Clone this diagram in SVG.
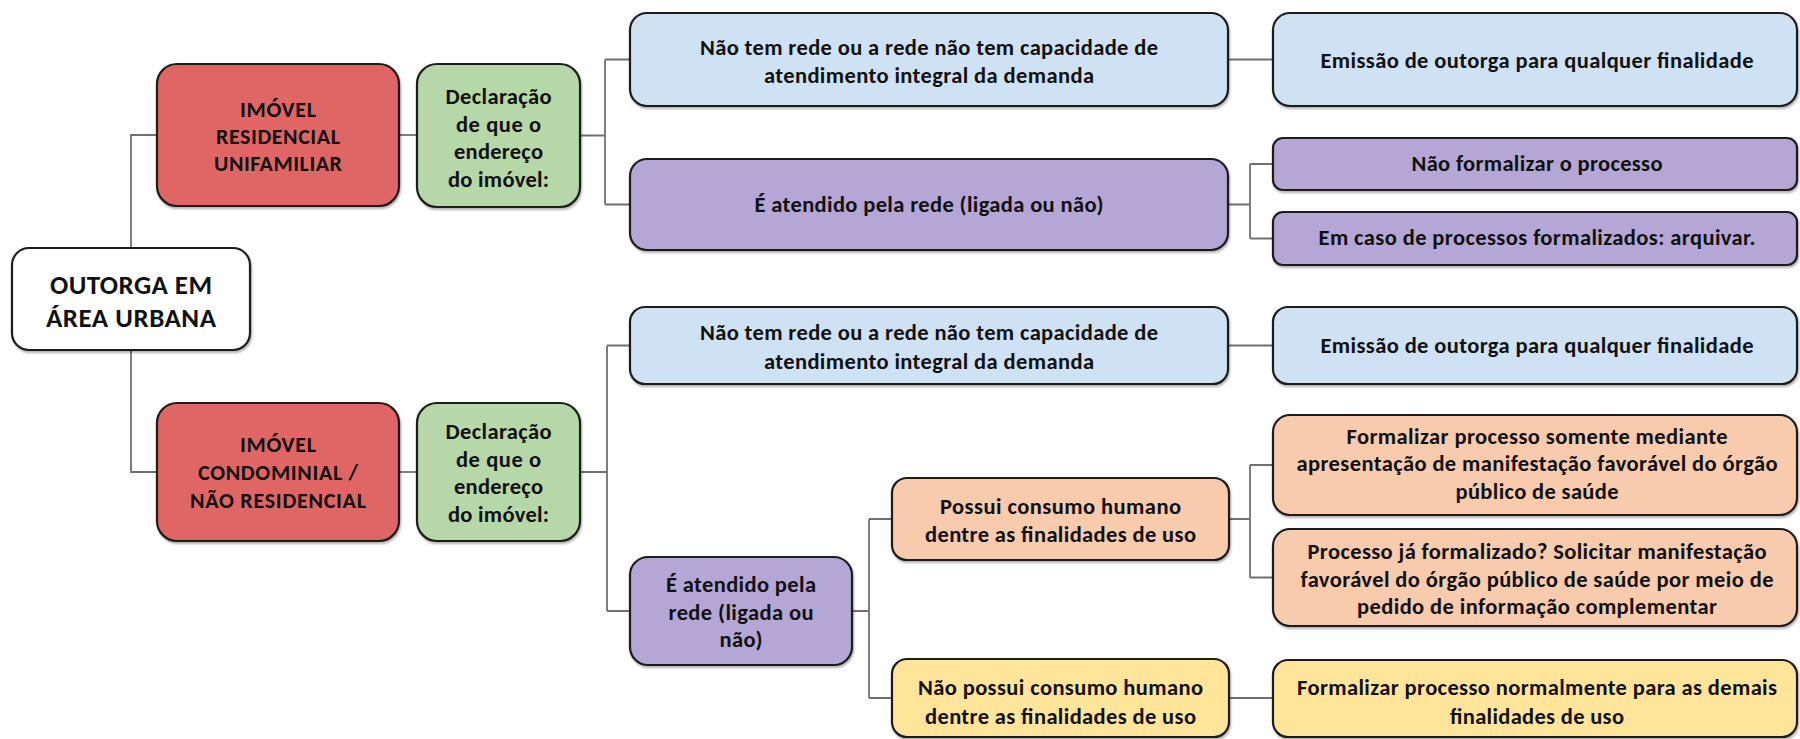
<svg xmlns="http://www.w3.org/2000/svg" width="1800" height="739" viewBox="0 0 1800 739">
<defs>
<filter id="sh" x="-5%" y="-10%" width="110%" height="130%">
<feDropShadow dx="1" dy="2" stdDeviation="1.2" flood-color="#000" flood-opacity="0.3"/>
</filter>
</defs>
<style>
rect.b{stroke:#1e1e1e;stroke-width:2.2;filter:url(#sh)}
.w{fill:#ffffff}.r{fill:#e06666}.g{fill:#b6d7a8}.bl{fill:#cfe2f3}.p{fill:#b4a7d6}.o{fill:#f8cbad}.y{fill:#ffe599}
text{font-family:Carlito,Calibri,Lato,"Open Sans","Liberation Sans",sans-serif;font-weight:bold;font-size:22.5px;fill:#111;text-anchor:middle}
text.big{font-size:27px}
text.cap{font-size:22px}
#connectors path{fill:none;stroke:#707070;stroke-width:1.8}
</style>
<rect width="1800" height="739" fill="#fff"/>
<g id="connectors">
<path d="M131 248 V135 H157"/>
<path d="M131 350 V472 H157"/>
<path d="M399 135 H417"/>
<path d="M399 472 H417"/>
<path d="M580 135.5 H605 M605 59.5 V204.5 M605 59.5 H630 M605 204.5 H630"/>
<path d="M580 472 H607 M607 345.5 V611 M607 345.5 H630 M607 611 H630"/>
<path d="M1228 59.5 H1273"/>
<path d="M1228 204.5 H1250 M1250 164 V238.5 M1250 164 H1273 M1250 238.5 H1273"/>
<path d="M1228 345.5 H1273"/>
<path d="M852 611 H869 M869 519 V698 M869 519 H892 M869 698 H892"/>
<path d="M1229 519 H1250 M1250 465 V577.5 M1250 465 H1273 M1250 577.5 H1273"/>
<path d="M1229 698 H1273"/>
</g>
<g id="root"><rect class="b w" x="12" y="248" width="238" height="102" rx="17"/>
<text class="big" x="131" y="294" textLength="162">OUTORGA EM</text>
<text class="big" x="131" y="327" textLength="170">ÁREA URBANA</text></g>
<g id="red1"><rect class="b r" x="157" y="64" width="242" height="142" rx="20"/>
<text class="cap" x="278" y="117" textLength="76">IMÓVEL</text>
<text class="cap" x="278" y="144" textLength="124">RESIDENCIAL</text>
<text class="cap" x="278" y="171" textLength="128">UNIFAMILIAR</text></g>
<g id="red2"><rect class="b r" x="157" y="403" width="242" height="138" rx="20"/>
<text class="cap" x="278" y="452" textLength="76">IMÓVEL</text>
<text class="cap" x="278" y="480" textLength="160">CONDOMINIAL /</text>
<text class="cap" x="278" y="508" textLength="176">NÃO RESIDENCIAL</text></g>
<g id="green1"><rect class="b g" x="417" y="64" width="163" height="143" rx="20"/>
<text x="498.5" y="104" textLength="106">Declaração</text>
<text x="498.5" y="131.5" textLength="85">de que o</text>
<text x="498.5" y="159" textLength="89">endereço</text>
<text x="498.5" y="186.5" textLength="101">do imóvel:</text></g>
<g id="green2"><rect class="b g" x="417" y="403" width="163" height="138" rx="20"/>
<text x="498.5" y="439" textLength="106">Declaração</text>
<text x="498.5" y="467" textLength="85">de que o</text>
<text x="498.5" y="494" textLength="89">endereço</text>
<text x="498.5" y="522" textLength="101">do imóvel:</text></g>
<g id="blue1"><rect class="b bl" x="630" y="13" width="598" height="93" rx="17"/>
<text x="929" y="55" textLength="458">Não tem rede ou a rede não tem capacidade de</text>
<text x="929" y="83" textLength="330">atendimento integral da demanda</text></g>
<g id="purple1"><rect class="b p" x="630" y="159" width="598" height="91" rx="17"/>
<text x="929" y="212" textLength="349">É atendido pela rede (ligada ou não)</text></g>
<g id="blue2"><rect class="b bl" x="630" y="307" width="598" height="77" rx="15"/>
<text x="929" y="340" textLength="458">Não tem rede ou a rede não tem capacidade de</text>
<text x="929" y="369" textLength="330">atendimento integral da demanda</text></g>
<g id="purple2"><rect class="b p" x="630" y="557" width="222" height="108" rx="18"/>
<text x="741" y="592" textLength="150">É atendido pela</text>
<text x="741" y="620" textLength="145">rede (ligada ou</text>
<text x="741" y="647" textLength="43">não)</text></g>
<g id="possui"><rect class="b o" x="892" y="478" width="337" height="82" rx="15"/>
<text x="1060.5" y="514" textLength="241">Possui consumo humano</text>
<text x="1060.5" y="542" textLength="271">dentre as finalidades de uso</text></g>
<g id="naopossui"><rect class="b y" x="892" y="659" width="337" height="78" rx="15"/>
<text x="1060.5" y="695" textLength="285">Não possui consumo humano</text>
<text x="1060.5" y="724" textLength="271">dentre as finalidades de uso</text></g>
<g id="emissao1"><rect class="b bl" x="1273" y="13" width="524" height="93" rx="17"/>
<text x="1537" y="68" textLength="433">Emissão de outorga para qualquer finalidade</text></g>
<g id="naoformalizar"><rect class="b p" x="1273" y="138" width="524" height="52" rx="10"/>
<text x="1537" y="171" textLength="251">Não formalizar o processo</text></g>
<g id="emcaso"><rect class="b p" x="1273" y="212" width="524" height="53" rx="10"/>
<text x="1537" y="245" textLength="437">Em caso de processos formalizados: arquivar.</text></g>
<g id="emissao2"><rect class="b bl" x="1273" y="307" width="524" height="77" rx="15"/>
<text x="1537" y="353" textLength="433">Emissão de outorga para qualquer finalidade</text></g>
<g id="formsomente"><rect class="b o" x="1273" y="415" width="524" height="100" rx="17"/>
<text x="1537" y="444" textLength="381">Formalizar processo somente mediante</text>
<text x="1537" y="471" textLength="481">apresentação de manifestação favorável do órgão</text>
<text x="1537" y="499" textLength="163">público de saúde</text></g>
<g id="processo"><rect class="b o" x="1273" y="529" width="524" height="97" rx="17"/>
<text x="1537" y="559" textLength="459">Processo já formalizado? Solicitar manifestação</text>
<text x="1537" y="587" textLength="473">favorável do órgão público de saúde por meio de</text>
<text x="1537" y="614" textLength="360">pedido de informação complementar</text></g>
<g id="formnormal"><rect class="b y" x="1273" y="660" width="524" height="77" rx="15"/>
<text x="1537" y="695" textLength="480">Formalizar processo normalmente para as demais</text>
<text x="1537" y="724" textLength="174">finalidades de uso</text></g>
</svg>
